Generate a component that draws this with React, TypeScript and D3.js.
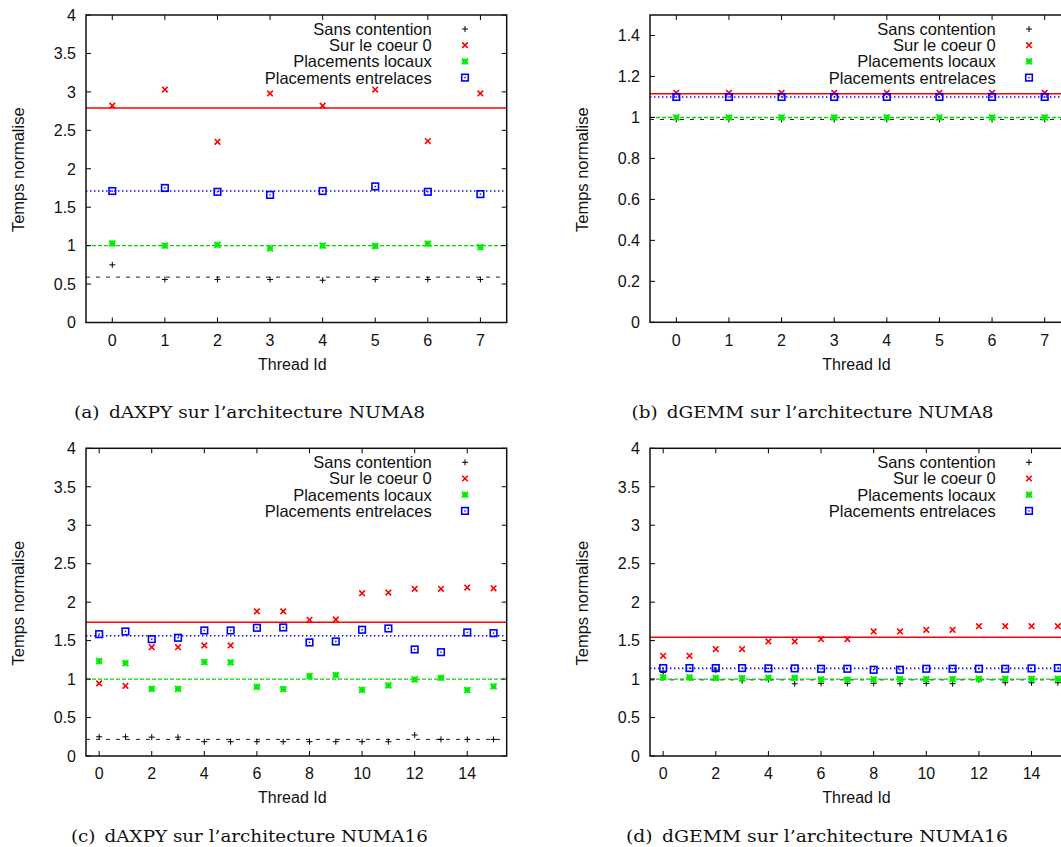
import React from 'react';
import * as d3 from 'd3';

// ---------- data ----------
const threads8 = [0, 1, 2, 3, 4, 5, 6, 7];
const threads16 = [0, 1, 2, 3, 4, 5, 6, 7, 8, 9, 10, 11, 12, 13, 14, 15];
const seriesNames = ['Sans contention', 'Sur le coeur 0', 'Placements locaux', 'Placements entrelaces'];

const xTicks8 = [0, 1, 2, 3, 4, 5, 6, 7];
const xTicks16 = [0, 2, 4, 6, 8, 10, 12, 14];
const yTicksDaxpy = [0, 0.5, 1, 1.5, 2, 2.5, 3, 3.5, 4];
const yTicksGemm8 = [0, 0.2, 0.4, 0.6, 0.8, 1, 1.2, 1.4];
const yTicksGemm16 = [0, 0.5, 1, 1.5, 2, 2.5, 3, 3.5, 4];

// (a) dAXPY NUMA8
const aSans = [0.75, 0.56, 0.56, 0.56, 0.55, 0.56, 0.56, 0.56];
const aCoeur0 = [2.82, 3.03, 2.35, 2.98, 2.82, 3.03, 2.36, 2.98];
const aLocaux = [1.03, 1.0, 1.01, 0.965, 1.0, 0.995, 1.025, 0.98];
const aEntrelaces = [1.71, 1.75, 1.7, 1.66, 1.71, 1.77, 1.7, 1.67];
const aMeans = [0.59, 2.79, 1.0, 1.71];

// (b) dGEMM NUMA8
const bSans = [0.99, 0.99, 0.99, 0.99, 0.99, 0.99, 0.99, 0.99];
const bCoeur0 = [1.12, 1.12, 1.12, 1.12, 1.12, 1.12, 1.12, 1.12];
const bLocaux = [1.0, 1.0, 1.0, 1.0, 1.0, 1.0, 1.0, 1.0];
const bEntrelaces = [1.1, 1.1, 1.1, 1.1, 1.1, 1.1, 1.1, 1.1];
const bMeans = [0.99, 1.115, 1.0, 1.1];

// (c) dAXPY NUMA16
const cSans = [0.25, 0.25, 0.245, 0.245, 0.186, 0.186, 0.186, 0.186, 0.186, 0.186, 0.186, 0.186, 0.273, 0.216, 0.216, 0.216];
const cCoeur0 = [0.944, 0.913, 1.415, 1.415, 1.437, 1.437, 1.88, 1.88, 1.77, 1.775, 2.117, 2.125, 2.173, 2.173, 2.19, 2.18];
const cLocaux = [1.234, 1.208, 0.874, 0.874, 1.221, 1.217, 0.9, 0.87, 1.039, 1.052, 0.861, 0.918, 0.996, 1.017, 0.857, 0.905];
const cEntrelaces = [1.584, 1.619, 1.519, 1.537, 1.632, 1.632, 1.667, 1.671, 1.476, 1.489, 1.641, 1.658, 1.385, 1.35, 1.606, 1.597];
const cMeans = [0.216, 1.74, 1.0, 1.563];

// (d) dGEMM NUMA16
const dSans = [1.087, 1.017, 1.117, 0.978, 0.996, 0.939, 0.944, 0.944, 0.944, 0.94, 0.944, 0.94, 0.987, 0.952, 0.952, 0.952];
const dCoeur0 = [1.303, 1.303, 1.39, 1.39, 1.489, 1.489, 1.519, 1.519, 1.619, 1.619, 1.641, 1.641, 1.688, 1.688, 1.688, 1.688];
const dLocaux = [1.022, 1.022, 1.013, 1.013, 1.017, 1.017, 0.996, 0.993, 0.996, 1.0, 1.0, 1.0, 1.004, 1.004, 1.004, 1.004];
const dEntrelaces = [1.143, 1.143, 1.143, 1.143, 1.139, 1.139, 1.134, 1.134, 1.121, 1.121, 1.134, 1.134, 1.134, 1.134, 1.139, 1.143];
const dMeans = [0.99, 1.545, 1.0, 1.139];

const captions = [
  '(a)\u2002dAXPY sur l\u2019architecture NUMA8',
  '(b)\u2002dGEMM sur l\u2019architecture NUMA8',
  '(c)\u2002dAXPY sur l\u2019architecture NUMA16',
  '(d)\u2002dGEMM sur l\u2019architecture NUMA16',
];

// ---------- styling ----------
const SANS = '"Liberation Sans", Arial, Helvetica, sans-serif';
const SERIF = '"DejaVu Serif", "Liberation Serif", serif';
const lineStyles = [
  { stroke: '#222', width: 1, dash: '4,6' },
  { stroke: '#ff0000', width: 1.5, dash: 'none' },
  { stroke: '#00d800', width: 1.4, dash: '4,2' },
  { stroke: '#0000ff', width: 1.6, dash: '1.4,2.6' },
];

function Marker({ kind, x, y }: { kind: number; x: number; y: number }) {
  if (kind === 0) {
    const s = 3;
    return <path d={`M${x - s},${y}H${x + s}M${x},${y - s}V${y + s}`} stroke="#000" strokeWidth={1} fill="none" />;
  }
  if (kind === 1) {
    const s = 2.8;
    return <path d={`M${x - s},${y - s}L${x + s},${y + s}M${x - s},${y + s}L${x + s},${y - s}`} stroke="#ff0000" strokeWidth={1.6} fill="none" />;
  }
  if (kind === 2) {
    const s = 3;
    return (
      <path
        d={`M${x - s},${y}H${x + s}M${x},${y - s}V${y + s}M${x - s},${y - s}L${x + s},${y + s}M${x - s},${y + s}L${x + s},${y - s}`}
        stroke="#00ee00"
        strokeWidth={1.8}
        fill="none"
      />
    );
  }
  const s = 3.3;
  return (
    <g>
      <rect x={x - s} y={y - s} width={2 * s} height={2 * s} stroke="#0000ff" strokeWidth={1.6} fill="none" />
      <rect x={x - 0.7} y={y - 0.7} width={1.4} height={1.4} fill="#0000ff" />
    </g>
  );
}

type PanelCfg = {
  left: number;
  top: number;
  width: number;
  height: number;
  xDomain: [number, number];
  yDomain: [number, number];
  xTicks: number[];
  yTicks: number[];
  threads: number[];
  series: number[][];
  means: number[];
  caption: string;
  capX: number;
  capY: number;
  capW: number;
};

function Panel({ cfg }: { cfg: PanelCfg }) {
  const { left, top, width, height } = cfg;
  const x = d3.scaleLinear().domain(cfg.xDomain).range([left, left + width]);
  const y = d3.scaleLinear().domain(cfg.yDomain).range([top + height, top]);
  const right = left + width;
  const bottom = top + height;
  const tl = 5;
  const fmt = (v: number) => String(+v.toFixed(2));
  return (
    <g>
      {cfg.means.map((m, i) => (
        <line
          key={'m' + i}
          x1={left}
          x2={right}
          y1={y(m)}
          y2={y(m)}
          stroke={lineStyles[i].stroke}
          strokeWidth={lineStyles[i].width}
          strokeDasharray={lineStyles[i].dash}
        />
      ))}
      {cfg.series.map((s, si) =>
        s.map((v, j) => <Marker key={`p${si}-${j}`} kind={si} x={x(cfg.threads[j])} y={y(v)} />)
      )}
      {cfg.yTicks.map((t) => (
        <g key={'yt' + t}>
          <line x1={left} x2={left + tl} y1={y(t)} y2={y(t)} stroke="#000" strokeWidth={1} />
          <line x1={right} x2={right - tl} y1={y(t)} y2={y(t)} stroke="#000" strokeWidth={1} />
          <text x={left - 10} y={y(t)} dy="0.36em" textAnchor="end" fontFamily={SANS} fontSize={16} fill="#111">
            {fmt(t)}
          </text>
        </g>
      ))}
      {cfg.xTicks.map((t) => (
        <g key={'xt' + t}>
          <line x1={x(t)} x2={x(t)} y1={bottom} y2={bottom - tl} stroke="#000" strokeWidth={1} />
          <line x1={x(t)} x2={x(t)} y1={top} y2={top + tl} stroke="#000" strokeWidth={1} />
          <text x={x(t)} y={bottom + 17.5} dy="0.36em" textAnchor="middle" fontFamily={SANS} fontSize={16} fill="#111">
            {t}
          </text>
        </g>
      ))}
      <rect x={left} y={top} width={width} height={height} fill="none" stroke="#111" strokeWidth={1.5} />
      <text
        x={left - 67.7}
        y={top + height / 2 + 1}
        transform={`rotate(-90 ${left - 67.7} ${top + height / 2 + 1})`}
        dy="0.36em"
        textAnchor="middle"
        fontFamily={SANS}
        fontSize={16.5}
        fill="#111"
      >
        Temps normalise
      </text>
      <text x={left + width / 2 - 4} y={bottom + 41.5} dy="0.36em" textAnchor="middle" fontFamily={SANS} fontSize={16} fill="#111">
        Thread Id
      </text>
      {seriesNames.map((n, i) => {
        const ly = top + 14 + i * 16.2;
        return (
          <g key={'lg' + i}>
            <text x={left + 345.7} y={ly} dy="0.36em" textAnchor="end" fontFamily={SANS} fontSize={16.5} fill="#111">
              {n}
            </text>
            <Marker kind={i} x={left + 379} y={ly} />
          </g>
        );
      })}
      <text
        x={cfg.capX}
        y={cfg.capY}
        dy="0.36em"
        textAnchor="middle"
        fontFamily={SERIF}
        fontSize={16.5}
        fill="#111"
        textLength={cfg.capW}
        lengthAdjust="spacingAndGlyphs"
        style={{ whiteSpace: 'pre' }}
      >
        {cfg.caption}
      </text>
    </g>
  );
}

export default function App() {
  const panels: PanelCfg[] = [
    {
      left: 86, top: 15, width: 420.7, height: 307.5,
      xDomain: [-0.5, 7.5], yDomain: [0, 4], xTicks: xTicks8, yTicks: yTicksDaxpy,
      threads: threads8, series: [aSans, aCoeur0, aLocaux, aEntrelaces], means: aMeans,
      caption: captions[0], capX: 249.5, capY: 411.7, capW: 351,
    },
    {
      left: 650, top: 15, width: 421, height: 307.3,
      xDomain: [-0.5, 7.5], yDomain: [0, 1.5], xTicks: xTicks8, yTicks: yTicksGemm8,
      threads: threads8, series: [bSans, bCoeur0, bLocaux, bEntrelaces], means: bMeans,
      caption: captions[1], capX: 812.5, capY: 411.7, capW: 362,
    },
    {
      left: 86, top: 448.3, width: 420.7, height: 307.7,
      xDomain: [-0.5, 15.5], yDomain: [0, 4], xTicks: xTicks16, yTicks: yTicksDaxpy,
      threads: threads16, series: [cSans, cCoeur0, cLocaux, cEntrelaces], means: cMeans,
      caption: captions[2], capX: 249.4, capY: 836, capW: 357,
    },
    {
      left: 650, top: 448.3, width: 421, height: 307.7,
      xDomain: [-0.5, 15.5], yDomain: [0, 4], xTicks: xTicks16, yTicks: yTicksGemm16,
      threads: threads16, series: [dSans, dCoeur0, dLocaux, dEntrelaces], means: dMeans,
      caption: captions[3], capX: 817, capY: 836, capW: 382,
    },
  ];
  return (
    <svg
      width={1061}
      height={847}
      viewBox="0 0 1061 847"
      style={{ position: 'absolute', left: 0, top: 0, background: '#fff' }}
    >
      <rect x={0} y={0} width={1061} height={847} fill="#fff" />
      {panels.map((p, i) => (
        <Panel key={i} cfg={p} />
      ))}
    </svg>
  );
}
